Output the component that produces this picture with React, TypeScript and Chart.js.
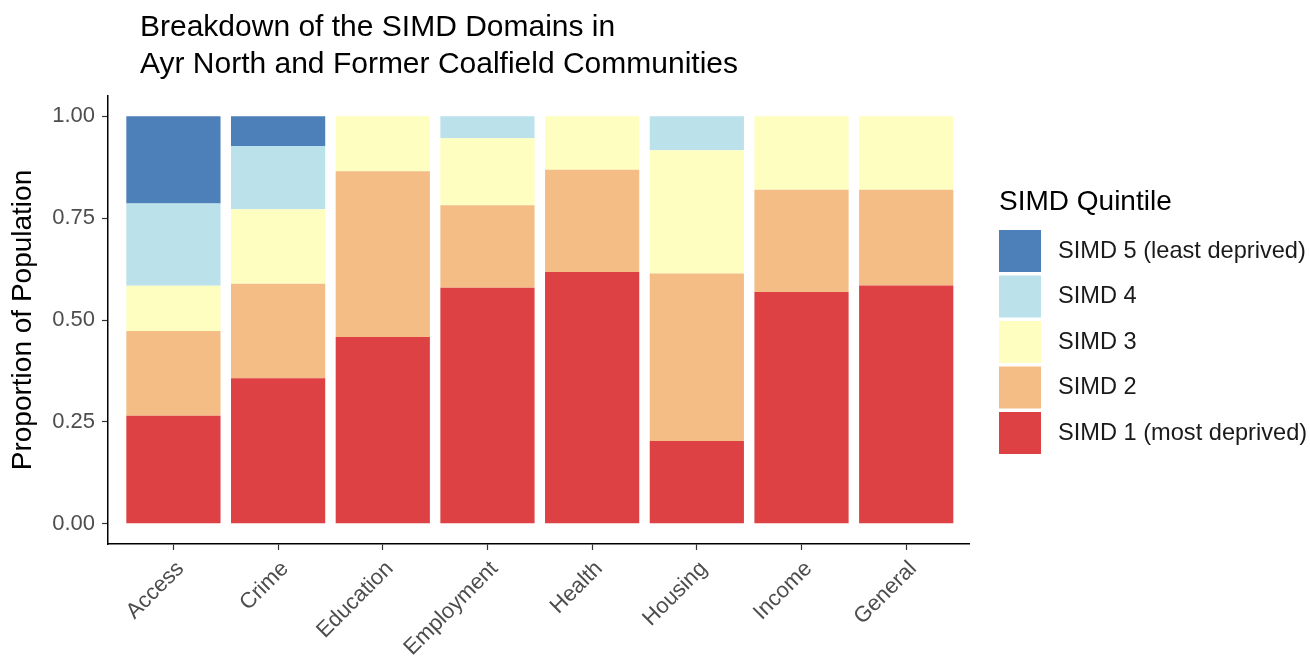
import React, { useEffect, useRef } from "react";
import { Chart, registerables } from "chart.js";

Chart.register(...registerables);

const TITLE_LINES = ["Breakdown of the SIMD Domains in", "Ayr North and Former Coalfield Communities"];
const CATEGORIES = ["Access", "Crime", "Education", "Employment", "Health", "Housing", "Income", "General"];
const SIMD1 = [0.265, 0.357, 0.458, 0.579, 0.618, 0.203, 0.569, 0.585];
const SIMD2 = [0.208, 0.232, 0.407, 0.203, 0.251, 0.411, 0.251, 0.235];
const SIMD3 = [0.111, 0.183, 0.135, 0.164, 0.131, 0.303, 0.18, 0.18];
const SIMD4 = [0.202, 0.155, 0, 0.054, 0, 0.083, 0, 0];
const SIMD5 = [0.214, 0.073, 0, 0, 0, 0, 0, 0];
const Y_TICKS = [0, 0.25, 0.5, 0.75, 1];
const SERIES_NAMES = ["SIMD 1 (most deprived)", "SIMD 2", "SIMD 3", "SIMD 4", "SIMD 5 (least deprived)"];
const SERIES_COLORS = ["#DE4143", "#F4BD85", "#FEFEC1", "#BBE1EA", "#4D7FB9"];
const LEGEND_TITLE = "SIMD Quintile";
const Y_TITLE = "Proportion of Population";

const FONT = '"Liberation Sans", Arial, Helvetica, sans-serif';

const decorPlugin = {
  id: "decor",
  afterDraw(chart: any) {
    const ctx = chart.ctx as CanvasRenderingContext2D;
    ctx.save();
    ctx.fillStyle = "#000000";
    ctx.textAlign = "left";
    ctx.textBaseline = "alphabetic";
    ctx.font = `30px ${FONT}`;
    ctx.fillText(TITLE_LINES[0], 140, 36);
    ctx.fillText(TITLE_LINES[1], 140, 73);

    ctx.textBaseline = "middle";
    ctx.font = `28px ${FONT}`;
    ctx.fillText(LEGEND_TITLE, 999, 202);
    const order = [4, 3, 2, 1, 0];
    order.forEach((si, k) => {
      const y = 230 + k * 45.5;
      ctx.fillStyle = SERIES_COLORS[si];
      ctx.fillRect(999, y, 42, 42);
      ctx.fillStyle = "#1A1A1A";
      ctx.font = `23.6px ${FONT}`;
      ctx.fillText(SERIES_NAMES[si], 1058, y + 21);
    });
    ctx.restore();
  },
};

export default function App() {
  const ref = useRef<HTMLCanvasElement | null>(null);

  useEffect(() => {
    if (!ref.current) return;
    const series = [SIMD1, SIMD2, SIMD3, SIMD4, SIMD5];
    const chart = new Chart(ref.current, {
      type: "bar",
      data: {
        datasets: series.map((vals, si) => ({
          label: SERIES_NAMES[si],
          data: vals.map((v, i) => ({ x: i, y: v })),
          backgroundColor: SERIES_COLORS[si],
          borderWidth: 0,
          barPercentage: 0.9,
          categoryPercentage: 1,
        })),
      },
      options: {
        responsive: false,
        animation: false,
        devicePixelRatio: 1,
        layout: { padding: { top: 96, right: 341, left: 0, bottom: 0 } },
        plugins: {
          legend: { display: false },
          tooltip: { enabled: false },
          title: { display: false },
        },
        scales: {
          x: {
            type: "linear",
            stacked: true,
            offset: false,
            min: -0.625,
            max: 7.6,
            afterBuildTicks: (scale: any) => {
              scale.ticks = CATEGORIES.map((_, i) => ({ value: i }));
            },
            afterFit: (scale: any) => {
              scale.height = 119;
            },
            ticks: {
              autoSkip: false,
              minRotation: 45,
              maxRotation: 45,
              padding: 6,
              labelOffset: 7,
              color: "#4D4D4D",
              font: { family: FONT, size: 22 },
              callback: (v: any) => CATEGORIES[Math.round(Number(v))] ?? "",
            },
            grid: {
              display: true,
              offset: false,
              drawOnChartArea: false,
              drawTicks: true,
              tickLength: 6,
              tickColor: "#333333",
              tickWidth: 1.2,
            },
            border: { display: true, color: "#000000", width: 1.5 },
          },
          y: {
            type: "linear",
            stacked: true,
            min: -0.05,
            max: 1.05,
            afterBuildTicks: (scale: any) => {
              scale.ticks = Y_TICKS.map((v) => ({ value: v }));
            },
            afterFit: (scale: any) => {
              scale.width = 108;
            },
            ticks: {
              padding: 7,
              color: "#4D4D4D",
              font: { family: FONT, size: 22 },
              callback: (v: any) => Number(v).toFixed(2),
            },
            grid: {
              display: true,
              drawOnChartArea: false,
              drawTicks: true,
              tickLength: 6,
              tickColor: "#333333",
              tickWidth: 1.2,
            },
            border: { display: true, color: "#000000", width: 1.5 },
            title: {
              display: true,
              text: Y_TITLE,
              color: "#000000",
              font: { family: FONT, size: 28 },
              padding: { top: 6, bottom: 0 },
            },
          },
        },
      },
      plugins: [decorPlugin],
    });
    return () => chart.destroy();
  }, []);

  return (
    <div style={{ position: "absolute", left: 0, top: 0, width: 1310, height: 663, background: "#fff" }}>
      <canvas ref={ref} width={1310} height={663} />
    </div>
  );
}
